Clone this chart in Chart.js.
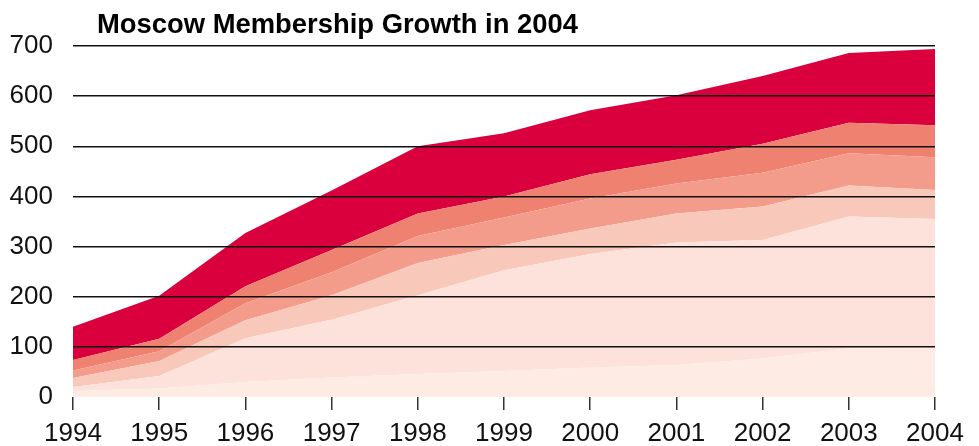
<!DOCTYPE html>
<html>
<head>
<meta charset="utf-8">
<title>Moscow Membership Growth in 2004</title>
<script src="https://cdn.jsdelivr.net/npm/chart.js@4"></script>
<style>
  body { margin: 0; background: #fff; }
  #wrap { width: 979px; height: 446px; }
</style>
</head>
<body>
<div id="wrap"><canvas id="membership-chart" width="979" height="446"></canvas></div>
<script>
const years = ["1994", "1995", "1996", "1997", "1998", "1999", "2000", "2001", "2002", "2003", "2004"];

// stacked layers, bottom to top
const layer1 = [12, 17, 30, 39, 46, 52, 59, 64, 77, 97, 99];
const layer2 = [8, 25, 87, 115, 157, 201, 226, 244, 236, 263, 256];
const layer3 = [18, 30, 36, 49, 64, 50, 51, 58, 67, 62, 58];
const layer4 = [15, 19, 34, 46, 54, 55, 60, 60, 67, 64, 65];
const layer5 = [21, 25, 34, 44, 45, 42, 48, 47, 58, 61, 64];
const layer6 = [66, 86, 106, 119, 134, 126, 128, 129, 135, 139, 152];

const yTicks = [0, 100, 200, 300, 400, 500, 600, 700];

const layers = [layer1, layer2, layer3, layer4, layer5, layer6];
const colors = ["#fdebe4", "#fce2da", "#f8c8bb", "#f39c8b", "#ef8170", "#d9003d"];

const datasets = layers.map((values, i) => ({
  label: "Layer " + (i + 1),
  data: values,
  backgroundColor: colors[i],
  borderColor: colors[i],
  borderWidth: 0,
  pointRadius: 0,
  tension: 0,
  fill: i === 0 ? "origin" : "-1"
}));

// title drawn by hand so it can sit left of the plot edge
const titlePlugin = {
  id: "leftTitle",
  afterDraw(chart) {
    const c = chart.ctx;
    c.save();
    c.font = "bold 28px 'Liberation Sans', Arial, sans-serif";
    c.fillStyle = "#000";
    c.textBaseline = "alphabetic";
    c.fillText("Moscow Membership Growth in 2004", 97, 33, 481);
    c.restore();
  }
};

const ctx = document.getElementById("membership-chart").getContext("2d");

const chart = new Chart(ctx, {
  type: "line",
  data: { labels: years, datasets: datasets },
  plugins: [titlePlugin],
  options: {
    responsive: false,
    animation: false,
    layout: { padding: { top: 46, right: 44, left: 0, bottom: 0 } },
    plugins: {
      legend: { display: false },
      tooltip: { enabled: false }
    },
    scales: {
      x: {
        offset: false,
        border: { display: false },
        grid: {
          drawOnChartArea: false,
          drawTicks: true,
          tickLength: 13,
          color: "#333",
          lineWidth: 1.5
        },
        ticks: {
          color: "#111",
          padding: 8,
          maxRotation: 0,
          autoSkip: false,
          font: { family: "'Liberation Sans', Arial, sans-serif", size: 26 }
        },
        afterFit(scale) { scale.height = 49; }
      },
      y: {
        stacked: true,
        min: 0,
        max: 700,
        border: { display: false },
        grid: {
          z: 1,
          drawTicks: false,
          lineWidth: 1.4,
          color: (c) => (c.tick && c.tick.value === 0 ? "rgba(0,0,0,0)" : "#111")
        },
        afterBuildTicks(scale) {
          scale.ticks = yTicks.map((v) => ({ value: v }));
        },
        ticks: {
          color: "#111",
          padding: 20,
          font: { family: "'Liberation Sans', Arial, sans-serif", size: 26 }
        },
        afterFit(scale) { scale.width = 73; }
      }
    }
  }
});
</script>
</body>
</html>
